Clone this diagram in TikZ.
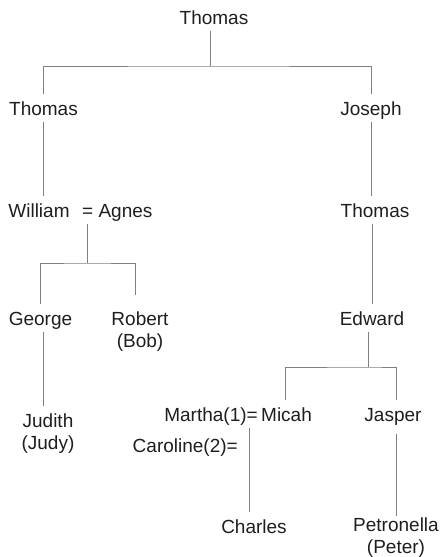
\documentclass[tikz,border=0pt]{standalone}
\usepackage{fontspec}
\setmainfont{Liberation Sans}
\usepackage{tikz}
\usetikzlibrary{positioning}
\definecolor{LineGrey}{HTML}{808080}
\definecolor{NameInk}{HTML}{1E1E1E}
\newcommand{\famfont}{\fontsize{19}{22}\selectfont}

\tikzset{
  person/.style={font=\famfont, text=NameInk, anchor=base, inner xsep=0pt, inner ysep=7pt, text height=14pt, text depth=0pt},
  person2/.style={person, align=center, text height=36pt},
  link/.style={draw=LineGrey, line width=0.8pt}
}

\begin{document}
\begin{tikzpicture}[x=1pt, y=-1pt]
    \useasboundingbox (0,0) rectangle (441,557);

    \node[person] (thomasA) at (214,24) {Thomas};
    \node[person] (thomasB) at (43.5,115) {Thomas};
    \node[person] (joseph) at (371,115) {Joseph};
    \node[person] (william) at (39,217) {William};
    \node[person, anchor=base west] (agnes) at (82,217) {= Agnes};
    \node[person] (thomasC) at (375,217) {Thomas};
    \node[person] (george) at (40.5,325) {George};
    \node[person2] (robert) at (140,347) {Robert\\(Bob)};
    \node[person] (edward) at (372,325) {Edward};
    \node[person2] (judith) at (48,449) {Judith\\(Judy)};
    \node[person, anchor=base east] (martha) at (258,421) {Martha(1)=};
    \node[person, anchor=base west] (micah) at (261,421) {Micah};
    \node[person, anchor=base east] (caroline) at (238,452) {Caroline(2)=};
    \node[person] (jasper) at (393,421) {Jasper};
    \node[person] (charles) at (254,533) {Charles};
    \node[person2] (petronella) at (396,553) {Petronella\\(Peter)};

    % bar joints and marriage points
    \coordinate (bar0) at (210,66);
    \coordinate (bar1) at (87,263);
    \coordinate (bar2) at (368,367);
    \coordinate (wed1) at ([xshift=5pt]agnes.south west);
    \coordinate (wed2) at ([xshift=-9pt]martha.south east);

    \draw[link] (bar0 |- thomasA.south) -- (bar0);
    \draw[link] (thomasB.north) |- (bar0) -| (joseph.north);
    \draw[link] (thomasB.south) -- (thomasB.south |- william.north);
    \draw[link] (joseph.south) -- (joseph.south |- thomasC.north);

    \draw[link] (wed1) -- (wed1 |- bar1);
    \draw[link] (george.north) |- (bar1) -| ([xshift=-5pt,yshift=9pt]robert.north);
    \draw[link] ([xshift=3pt]george.south) -- ([xshift=3pt]george.south |- judith.north);

    \draw[link] (edward.north |- thomasC.south) -- (edward.north);
    \draw[link] (bar2 |- edward.south) -- (bar2);
    \draw[link] ([xshift=-1.5pt]micah.north) |- (bar2) -| ([xshift=3pt]jasper.north);
    \draw[link] (wed2) -- (wed2 |- charles.north);
    \draw[link] ([xshift=3pt,yshift=-6pt]jasper.south) -- ([xshift=3pt,yshift=-6pt]jasper.south |- petronella.north);
\end{tikzpicture}
\end{document}
